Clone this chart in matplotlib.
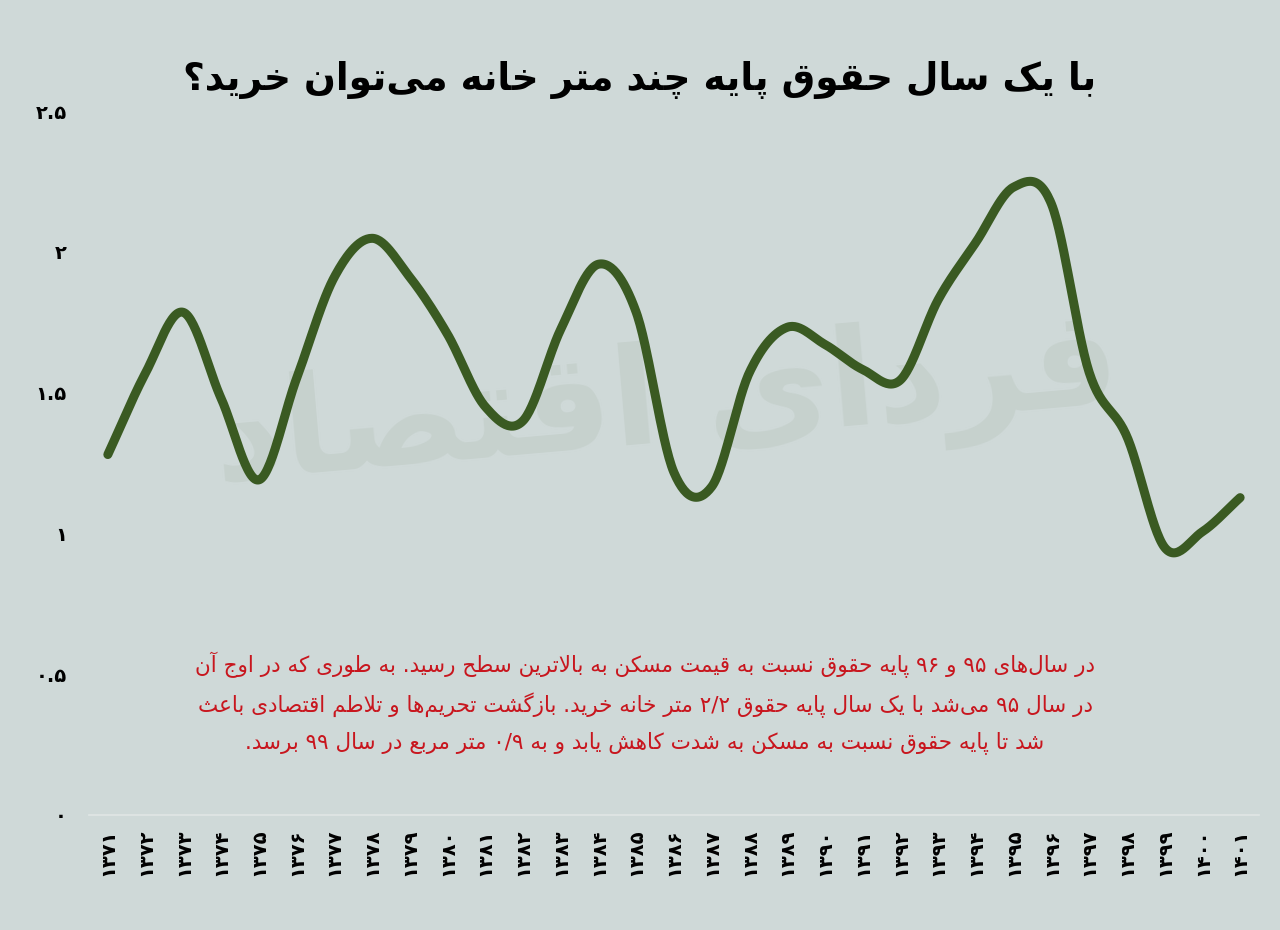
import re
import numpy as np
import matplotlib
matplotlib.use("Agg")
import matplotlib.pyplot as plt
from matplotlib import font_manager, ft2font

# data
years = list(range(1371, 1402))
ratio = [1.28, 1.57, 1.785, 1.48, 1.19, 1.55, 1.91, 2.048, 1.91, 1.707,
         1.45, 1.40, 1.725, 1.956, 1.785, 1.216, 1.166, 1.572, 1.732, 1.671,
         1.582, 1.545, 1.83, 2.034, 2.23, 2.17, 1.572, 1.344, 0.95, 1.006, 1.127]
yticks = [0, 0.5, 1, 1.5, 2, 2.5]
ytick_labels = ["۰", "۰.۵", "۱", "۱.۵", "۲", "۲.۵"]

title = "با یک سال حقوق پایه چند متر خانه می‌توان خرید؟"
note_lines = [
    "در سال‌های ۹۵ و ۹۶ پایه حقوق نسبت به قیمت مسکن به بالاترین سطح رسید. به طوری که در اوج آن",
    "در سال ۹۵ می‌شد با یک سال پایه حقوق ۲/۲ متر خانه خرید. بازگشت تحریم‌ها و تلاطم اقتصادی باعث",
    "شد تا پایه حقوق نسبت به مسکن به شدت کاهش یابد و به ۰/۹ متر مربع در سال ۹۹ برسد.",
]
watermark = "فردای اقتصاد"

BG = "#cfd9d8"
LINE = "#3a5a22"
RED = "#c8161e"

# --- minimal persian shaping (matplotlib does not join arabic letters) ---
FORMS = {
    'ء': ('\uFE80', None, None, None),
    'آ': ('\uFE81', '\uFE82', None, None),
    'ا': ('\uFE8D', '\uFE8E', None, None),
    'ئ': ('\uFE89', '\uFE8A', '\uFE8B', '\uFE8C'),
    'ب': ('\uFE8F', '\uFE90', '\uFE91', '\uFE92'),
    'پ': ('\uFB56', '\uFB57', '\uFB58', '\uFB59'),
    'ت': ('\uFE95', '\uFE96', '\uFE97', '\uFE98'),
    'ث': ('\uFE99', '\uFE9A', '\uFE9B', '\uFE9C'),
    'ج': ('\uFE9D', '\uFE9E', '\uFE9F', '\uFEA0'),
    'چ': ('\uFB7A', '\uFB7B', '\uFB7C', '\uFB7D'),
    'ح': ('\uFEA1', '\uFEA2', '\uFEA3', '\uFEA4'),
    'خ': ('\uFEA5', '\uFEA6', '\uFEA7', '\uFEA8'),
    'د': ('\uFEA9', '\uFEAA', None, None),
    'ذ': ('\uFEAB', '\uFEAC', None, None),
    'ر': ('\uFEAD', '\uFEAE', None, None),
    'ز': ('\uFEAF', '\uFEB0', None, None),
    'ژ': ('\uFB8A', '\uFB8B', None, None),
    'س': ('\uFEB1', '\uFEB2', '\uFEB3', '\uFEB4'),
    'ش': ('\uFEB5', '\uFEB6', '\uFEB7', '\uFEB8'),
    'ص': ('\uFEB9', '\uFEBA', '\uFEBB', '\uFEBC'),
    'ض': ('\uFEBD', '\uFEBE', '\uFEBF', '\uFEC0'),
    'ط': ('\uFEC1', '\uFEC2', '\uFEC3', '\uFEC4'),
    'ظ': ('\uFEC5', '\uFEC6', '\uFEC7', '\uFEC8'),
    'ع': ('\uFEC9', '\uFECA', '\uFECB', '\uFECC'),
    'غ': ('\uFECD', '\uFECE', '\uFECF', '\uFED0'),
    'ف': ('\uFED1', '\uFED2', '\uFED3', '\uFED4'),
    'ق': ('\uFED5', '\uFED6', '\uFED7', '\uFED8'),
    'ک': ('\uFB8E', '\uFB8F', '\uFB90', '\uFB91'),
    'گ': ('\uFB92', '\uFB93', '\uFB94', '\uFB95'),
    'ل': ('\uFEDD', '\uFEDE', '\uFEDF', '\uFEE0'),
    'م': ('\uFEE1', '\uFEE2', '\uFEE3', '\uFEE4'),
    'ن': ('\uFEE5', '\uFEE6', '\uFEE7', '\uFEE8'),
    'ه': ('\uFEE9', '\uFEEA', '\uFEEB', '\uFEEC'),
    'و': ('\uFEED', '\uFEEE', None, None),
    'ی': ('\uFBFC', '\uFBFD', '\uFBFE', '\uFBFF'),
}
LAMALEF = {'ا': ('\uFEFB', '\uFEFC'), 'آ': ('\uFEF5', '\uFEF6')}


def charset(weight):
    path = font_manager.findfont(font_manager.FontProperties(family="DejaVu Sans", weight=weight))
    return set(ft2font.FT2Font(path).get_charmap())


def joins_left(ch):
    # can this letter connect to the following one?
    return ch in FORMS and FORMS[ch][2] is not None


def fa(text, weight="normal"):
    cmap = charset(weight)
    pick = lambda form, base: form if form and ord(form) in cmap else base
    s = text.replace('ي', 'ی').replace('ك', 'ک')
    out = []
    i = 0
    while i < len(s):
        ch = s[i]
        if ch not in FORMS:
            if ch != '\u200c':
                out.append(ch)
            i += 1
            continue
        prev = s[i - 1] if i > 0 else ''
        con_prev = joins_left(prev)
        nxt = s[i + 1] if i + 1 < len(s) else ''
        if ch == 'ل' and nxt in LAMALEF:
            out.append(pick(LAMALEF[nxt][1 if con_prev else 0], ch + nxt))
            i += 2
            continue
        con_next = joins_left(ch) and nxt in FORMS
        iso, fin, ini, med = FORMS[ch]
        if con_prev and con_next:
            form = med
        elif con_prev:
            form = fin
        elif con_next:
            form = ini
        else:
            form = iso
        out.append(pick(form, ch))
        i += 1
    shaped = ''.join(out)
    tokens = re.findall(r'[۰-۹0-9]+(?:[./][۰-۹0-9]+)*|.', shaped, re.S)
    return ''.join(reversed(tokens))


def to_fa_digits(n):
    return str(n).translate(str.maketrans("0123456789", "۰۱۲۳۴۵۶۷۸۹"))


def catmull_rom(y, steps=30):
    # smooth line through the points (like spreadsheet "smoothed line")
    p = np.concatenate([[2 * y[0] - y[1]], y, [2 * y[-1] - y[-2]]])
    xs, ys = [], []
    t = np.linspace(0, 1, steps, endpoint=False)
    for k in range(1, len(p) - 2):
        p0, p1, p2, p3 = p[k - 1], p[k], p[k + 1], p[k + 2]
        seg = 0.5 * (2 * p1 + (-p0 + p2) * t + (2 * p0 - 5 * p1 + 4 * p2 - p3) * t ** 2
                     + (-p0 + 3 * p1 - 3 * p2 + p3) * t ** 3)
        xs.append(k - 1 + t)
        ys.append(seg)
    xs.append([len(y) - 1])
    ys.append([y[-1]])
    return np.concatenate(xs), np.concatenate(ys)


plt.rcParams['font.family'] = ['DejaVu Sans']

fig = plt.figure(figsize=(12.8, 9.3), dpi=100, facecolor=BG)
ax = fig.add_axes([0.0695, 0.1237, 0.9141, 0.7569])
ax.set_facecolor(BG)

x = np.arange(len(years))
ax.text(14.8, 1.45, fa(watermark, "bold"), fontsize=98, fontweight="bold",
        color="#c6d1cd", ha="center", va="center", rotation=5, zorder=0)

sx, sy = catmull_rom(np.array(ratio))
ax.plot(sx, sy, color=LINE, lw=6.5, solid_capstyle="round", zorder=3)

ax.set_xlim(-0.5, len(years) - 0.5)
ax.set_ylim(0, 2.5)
ax.set_xticks(x)
ax.set_xticklabels([to_fa_digits(v) for v in years], rotation=90, fontsize=14,
                   fontweight="bold", va="top")
ax.set_yticks(yticks)
ax.set_yticklabels(ytick_labels, fontsize=14, fontweight="bold")
ax.tick_params(length=0, pad=16)
ax.tick_params(axis="x", pad=10)
for side in ["top", "right", "left"]:
    ax.spines[side].set_visible(False)
ax.spines["bottom"].set_color("#e0e6e5")
ax.spines["bottom"].set_linewidth(1.2)

fig.text(0.4995, 1 - 80 / 930, fa(title, "bold"), fontsize=27, fontweight="bold",
         ha="center", va="center", color="black")

note = "\n".join(fa(l) for l in note_lines)
fig.text(0.504, 1 - 703 / 930, note, fontsize=15.5, color=RED, ha="center",
         va="center", multialignment="center", linespacing=1.75)

fig.savefig("out.png", dpi=100, facecolor=BG)
